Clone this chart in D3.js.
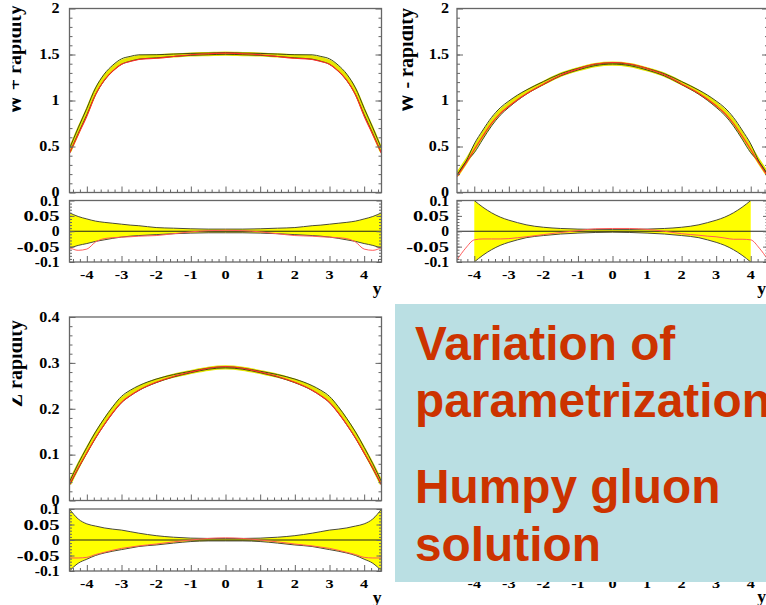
<!DOCTYPE html>
<html>
<head>
<meta charset="utf-8">
<script src="https://cdn.jsdelivr.net/npm/d3@7"></script>
<style>
  html, body { margin: 0; padding: 0; background: #fff; }
  svg { display: block; }
  .tick line { stroke: #666; }
</style>
</head>
<body>
<svg id="chart" width="766" height="605"></svg>
<script>
// ---------- data ----------
const rapidity = [-4.5,-4.25,-4,-3.75,-3.5,-3.25,-3,-2.75,-2.5,-2,-1.5,-1,-0.5,0,0.5,1,1.5,2,2.5,2.75,3,3.25,3.5,3.75,4,4.25,4.5];

// W+ rapidity distribution: central fit, relative band edges, alternative parametrization (ratio)
const wPlusCentral = [0.45,0.67,0.88,1.10,1.25,1.35,1.42,1.45,1.47,1.48,1.49,1.50,1.505,1.51,1.505,1.50,1.49,1.48,1.47,1.45,1.42,1.35,1.25,1.10,0.88,0.67,0.45];
const wPlusBandUp = [0.060,0.048,0.040,0.033,0.029,0.026,0.023,0.020,0.018,0.012,0.010,0.008,0.007,0.007,0.007,0.008,0.010,0.012,0.018,0.020,0.023,0.026,0.029,0.033,0.040,0.048,0.060];
const wPlusBandDown = [-0.055,-0.046,-0.040,-0.033,-0.028,-0.023,-0.019,-0.016,-0.014,-0.011,-0.008,-0.006,-0.005,-0.005,-0.005,-0.006,-0.008,-0.011,-0.014,-0.016,-0.019,-0.023,-0.028,-0.033,-0.040,-0.046,-0.055];
const wPlusAltRatio = [-0.053,-0.062,-0.058,-0.035,-0.024,-0.021,-0.019,-0.018,-0.016,-0.014,-0.008,-0.002,0.002,0.003,0.002,-0.002,-0.008,-0.014,-0.016,-0.018,-0.019,-0.021,-0.024,-0.035,-0.058,-0.062,-0.053];

// W- rapidity distribution (band only defined for |y| <= 4)
const wMinusCentral = [0.19,0.33,0.48,0.63,0.77,0.88,0.96,1.03,1.09,1.19,1.28,1.34,1.385,1.40,1.385,1.34,1.28,1.19,1.09,1.03,0.96,0.88,0.77,0.63,0.48,0.33,0.19];
const wMinusBandUp = [null,null,0.1,0.078,0.06,0.046,0.036,0.028,0.021,0.013,0.009,0.007,0.006,0.006,0.006,0.007,0.009,0.013,0.021,0.028,0.036,0.046,0.06,0.078,0.1,null,null];
const wMinusBandDown = [null,null,-0.1,-0.078,-0.06,-0.046,-0.036,-0.028,-0.021,-0.014,-0.009,-0.006,-0.004,-0.003,-0.004,-0.006,-0.009,-0.014,-0.021,-0.028,-0.036,-0.046,-0.06,-0.078,-0.1,null,null];
const wMinusAltRatio = [-0.093,-0.055,-0.028,-0.025,-0.025,-0.025,-0.024,-0.021,-0.018,-0.011,-0.004,0.002,0.008,0.009,0.009,0.006,0.0,-0.008,-0.013,-0.016,-0.018,-0.022,-0.026,-0.026,-0.028,-0.055,-0.093];

// Z rapidity distribution
const zCentral = [0.037,0.075,0.11,0.143,0.172,0.198,0.22,0.234,0.245,0.261,0.272,0.28,0.287,0.29,0.287,0.28,0.272,0.261,0.245,0.234,0.22,0.198,0.172,0.143,0.11,0.075,0.037];
const zBandUp = [0.1,0.068,0.052,0.045,0.039,0.035,0.032,0.027,0.022,0.014,0.009,0.006,0.005,0.005,0.005,0.006,0.009,0.014,0.022,0.027,0.032,0.035,0.039,0.045,0.052,0.068,0.1];
const zBandDown = [-0.1,-0.075,-0.062,-0.05,-0.042,-0.036,-0.031,-0.026,-0.021,-0.016,-0.01,-0.005,-0.003,-0.003,-0.003,-0.005,-0.01,-0.016,-0.021,-0.026,-0.031,-0.036,-0.042,-0.05,-0.062,-0.075,-0.1];
const zAltRatio = [-0.058,-0.058,-0.056,-0.047,-0.04,-0.033,-0.027,-0.023,-0.019,-0.013,-0.006,0.0,0.005,0.007,0.005,0.0,-0.006,-0.013,-0.019,-0.023,-0.027,-0.033,-0.04,-0.047,-0.056,-0.058,-0.058];

// tick labels
const xTickValues = [-4,-3,-2,-1,0,1,2,3,4];
const xTickLabels = ["-4","-3","-2","-1","0","1","2","3","4"];
const wTickValues = [0,0.5,1,1.5,2];
const wTickLabels = ["0","0.5","1","1.5","2"];
const zTickValues = [0,0.1,0.2,0.3,0.4];
const zTickLabels = ["0","0.1","0.2","0.3","0.4"];
const ratioTickValues = [-0.1,-0.05,0,0.05,0.1];
const ratioTickLabels = ["-0.1","-0.05","0","0.05","0.1"];

const boxLines = ["Variation of", "parametrization", "Humpy gluon", "solution"];

// ---------- drawing ----------
const svg = d3.select("#chart");
const defs = svg.append("defs");
const SERIF = "'Liberation Serif', 'DejaVu Serif', serif";
let clipId = 0;

function clipRect(x, y, w, h) {
  const id = "clip" + (clipId++);
  defs.append("clipPath").attr("id", id)
    .append("rect").attr("x", x).attr("y", y).attr("width", w).attr("height", h);
  return "url(#" + id + ")";
}

function stretchedLabel(x, y, text, size, sx, anchor) {
  svg.append("text")
    .attr("transform", `translate(${x},${y}) scale(${sx},1)`)
    .attr("text-anchor", anchor)
    .attr("font-family", SERIF)
    .attr("font-weight", "bold")
    .attr("font-size", size)
    .attr("fill", "#000")
    .text(text);
}

function yTicks(scale, x0, x1, major, minor, majLen, minLen) {
  [[major, majLen], [minor, minLen]].forEach(([vals, len]) => {
    const l = svg.append("g").attr("transform", `translate(${x0},0)`)
      .call(d3.axisLeft(scale).tickValues(vals).tickSize(-len).tickFormat(""));
    l.select(".domain").remove();
    const r = svg.append("g").attr("transform", `translate(${x1},0)`)
      .call(d3.axisRight(scale).tickValues(vals).tickSize(-len).tickFormat(""));
    r.select(".domain").remove();
  });
}

function xTicks(scale, yPos, minor) {
  [[xTickValues, 6], [minor, 3]].forEach(([vals, len]) => {
    const b = svg.append("g").attr("transform", `translate(0,${yPos})`)
      .call(d3.axisBottom(scale).tickValues(vals).tickSize(-len).tickFormat(""));
    b.select(".domain").remove();
  });
}

function frame(x0, y0, x1, y1) {
  svg.append("rect").attr("x", x0).attr("y", y0)
    .attr("width", x1 - x0).attr("height", y1 - y0)
    .attr("fill", "none").attr("stroke", "#666").attr("stroke-width", 1.3);
}

function drawPanel(p) {
  const x = d3.scaleLinear().domain([-4.5, 4.5]).range([p.x0, p.x1]);
  const y = d3.scaleLinear().domain(p.yDomain).range([p.mainBottom, p.top]);
  const r = d3.scaleLinear().domain([-0.1, 0.1]).range([p.ratioBottom, p.ratioTop]);

  const pts = rapidity.map((v, i) => ({
    x: v,
    c: p.central[i],
    up: p.bandUp[i],
    dn: p.bandDown[i],
    alt: p.alt[i]
  }));
  const minorX = d3.range(-4.4, 4.41, 0.2).map(v => +v.toFixed(1)).filter(v => Math.abs(v % 1) > 0.01);

  // ---- main pad ----
  const main = svg.append("g").attr("clip-path", clipRect(p.x0, p.top, p.x1 - p.x0, p.mainBottom - p.top));
  const curve = d3.curveMonotoneX;
  const lineC = d3.line().x(d => x(d.x)).y(d => y(d.c)).curve(curve);
  const lineUp = d3.line().x(d => x(d.x)).y(d => y(d.c * (1 + (d.up ?? 0)))).curve(curve);
  const lineDn = d3.line().x(d => x(d.x)).y(d => y(d.c * (1 + (d.dn ?? 0)))).curve(curve);
  const lineAlt = d3.line().x(d => x(d.x)).y(d => y(d.c * (1 + d.alt))).curve(curve);
  main.append("path").attr("d", lineC(pts)).attr("fill", "none")
    .attr("stroke", "#e6e600").attr("stroke-width", 4.2);
  main.append("path").attr("d", lineUp(pts)).attr("fill", "none")
    .attr("stroke", "#3f4a12").attr("stroke-width", 1);
  main.append("path").attr("d", lineDn(pts)).attr("fill", "none")
    .attr("stroke", "#3f4a12").attr("stroke-width", 1);
  main.append("path").attr("d", lineAlt(pts)).attr("fill", "none")
    .attr("stroke", "#ff2a2a").attr("stroke-width", 1.1);

  yTicks(y, p.x0, p.x1, p.yTicks, p.yMinor, 6, 3);
  xTicks(x, p.mainBottom, minorX);
  frame(p.x0, p.top, p.x1, p.mainBottom);

  // ---- ratio pad ----
  const rat = svg.append("g").attr("clip-path", clipRect(p.x0, p.ratioTop, p.x1 - p.x0, p.ratioBottom - p.ratioTop));
  const band = d3.area().defined(d => d.up != null)
    .x(d => x(d.x)).y0(d => r(d.dn)).y1(d => r(d.up)).curve(curve);
  const bandUpLine = d3.line().defined(d => d.up != null).x(d => x(d.x)).y(d => r(d.up)).curve(curve);
  const bandDnLine = d3.line().defined(d => d.dn != null).x(d => x(d.x)).y(d => r(d.dn)).curve(curve);
  const altLine = d3.line().x(d => x(d.x)).y(d => r(d.alt)).curve(curve);
  rat.append("path").attr("d", band(pts)).attr("fill", "#ffff00").attr("stroke", "none");
  rat.append("path").attr("d", bandUpLine(pts)).attr("fill", "none").attr("stroke", "#4a4a3a").attr("stroke-width", 1);
  rat.append("path").attr("d", bandDnLine(pts)).attr("fill", "none").attr("stroke", "#4a4a3a").attr("stroke-width", 1);
  rat.append("line").attr("x1", p.x0).attr("x2", p.x1).attr("y1", r(0)).attr("y2", r(0))
    .attr("stroke", "#222").attr("stroke-width", 1.2);
  rat.append("path").attr("d", altLine(pts)).attr("fill", "none")
    .attr("stroke", "#ff5a5a").attr("stroke-width", 1);

  yTicks(r, p.x0, p.x1, ratioTickValues, d3.range(-0.09, 0.091, 0.01).map(v => +v.toFixed(2)), 5, 2.5);
  xTicks(x, p.ratioBottom, minorX);
  frame(p.x0, p.ratioTop, p.x1, p.ratioBottom);

  // ---- labels ----
  p.yTicks.forEach((v, i) => stretchedLabel(p.x0 - p.labelGap, y(v) + 4.8, p.yLabels[i], 14, 1.15, "end"));
  ratioTickValues.forEach((v, i) => {
    const t = ratioTickLabels[i];
    const sx = t.includes("05") ? 1.42 : 1.08;
    stretchedLabel(p.x0 - p.labelGap, r(v) + 5, t, 14.5, sx, "end");
  });
  xTickValues.forEach((v, i) => stretchedLabel(x(v), p.ratioBottom + 17, xTickLabels[i], 13, 1.25, "middle"));
  stretchedLabel(p.x1 + (p.yAxisTitleShift || 0), p.ratioBottom + 32, "y", 16, 1.1, "end");

  // rotated y title, partially cut on its outer side
  const tg = svg.append("g").attr("clip-path", clipRect(p.titleClip, p.top - 10, 60, 200));
  tg.append("text")
    .attr("transform", `translate(${p.titleX},${p.titleEnd}) rotate(-90)`)
    .attr("text-anchor", "end")
    .attr("font-family", SERIF)
    .attr("font-weight", "bold")
    .attr("font-size", 20)
    .text(p.title);
  return x;
}

drawPanel({
  x0: 69.5, x1: 381.5, top: 8.5, mainBottom: 192.5, ratioTop: 200.5, ratioBottom: 262,
  yDomain: [0, 2], yTicks: wTickValues, yLabels: wTickLabels, yMinor: d3.range(0.1, 2, 0.1).map(v => +v.toFixed(1)),
  central: wPlusCentral, bandUp: wPlusBandUp, bandDown: wPlusBandDown, alt: wPlusAltRatio,
  labelGap: 10, title: "W + rapidity", titleX: 21, titleEnd: 5, titleClip: 12.5
});

const xRight = drawPanel({
  x0: 457, x1: 768, top: 8.5, mainBottom: 192.5, ratioTop: 200.5, ratioBottom: 262,
  yDomain: [0, 2], yTicks: wTickValues, yLabels: wTickLabels, yMinor: d3.range(0.1, 2, 0.1).map(v => +v.toFixed(1)),
  central: wMinusCentral, bandUp: wMinusBandUp, bandDown: wMinusBandDown, alt: wMinusAltRatio,
  labelGap: 8, title: "W - rapidity", titleX: 413, titleEnd: 8, titleClip: 402.5, yAxisTitleShift: -2
});

drawPanel({
  x0: 69.5, x1: 381.5, top: 317, mainBottom: 500.5, ratioTop: 509, ratioBottom: 571,
  yDomain: [0, 0.4], yTicks: zTickValues, yLabels: zTickLabels, yMinor: d3.range(0.02, 0.4, 0.02).map(v => +v.toFixed(2)),
  central: zCentral, bandUp: zBandUp, bandDown: zBandDown, alt: zAltRatio,
  labelGap: 10, title: "Z rapidity", titleX: 22, titleEnd: 320, titleClip: 12.5
});

// fourth pad, mostly hidden behind the note box: only its x axis labels show
xTickValues.forEach((v, i) => stretchedLabel(xRight(v), 588, xTickLabels[i], 13, 1.25, "middle"));
stretchedLabel(766, 602, "y", 16, 1.1, "end");

// note box
svg.append("rect").attr("x", 395).attr("y", 304).attr("width", 380).attr("height", 278)
  .attr("fill", "#badfe3");
const baselines = [360, 417, 503, 561];
boxLines.forEach((t, i) => {
  svg.append("text")
    .attr("x", 415).attr("y", baselines[i])
    .attr("font-family", "'Liberation Sans', Arial, sans-serif")
    .attr("font-weight", "bold")
    .attr("font-size", 47.8)
    .attr("fill", "#cc3300")
    .text(t);
});
</script>
</body>
</html>
